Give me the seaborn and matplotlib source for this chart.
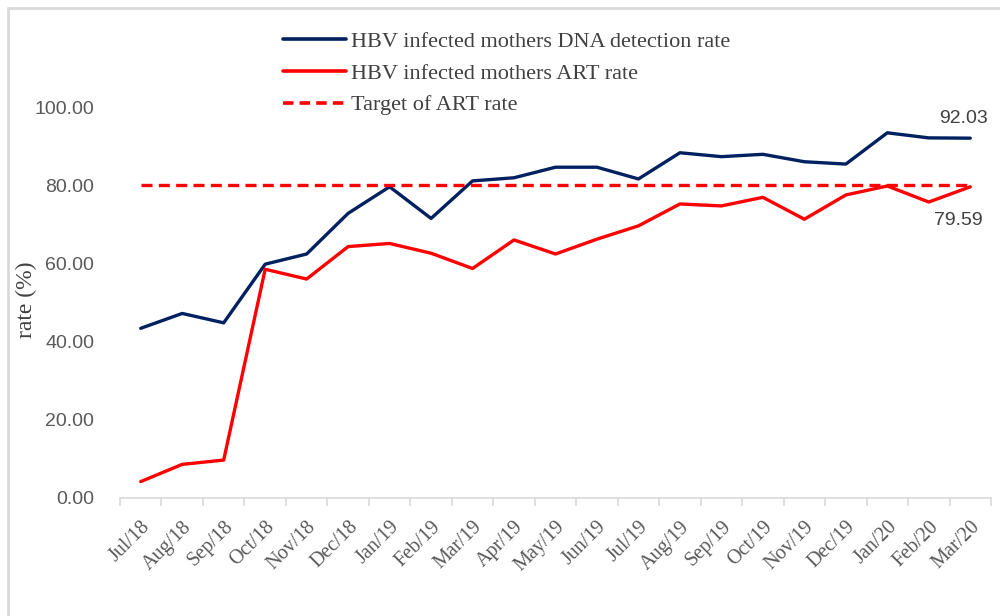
import matplotlib
matplotlib.use("Agg")
import matplotlib.pyplot as plt
import seaborn as sns
import pandas as pd
from matplotlib.lines import Line2D
from matplotlib.transforms import ScaledTranslation

# Data
months = ["Jul/18", "Aug/18", "Sep/18", "Oct/18", "Nov/18", "Dec/18", "Jan/19",
          "Feb/19", "Mar/19", "Apr/19", "May/19", "Jun/19", "Jul/19", "Aug/19",
          "Sep/19", "Oct/19", "Nov/19", "Dec/19", "Jan/20", "Feb/20", "Mar/20"]
dna_rate = [43.4, 47.2, 44.8, 59.8, 62.4, 72.8, 79.6, 71.5, 81.1, 81.9, 84.6,
            84.6, 81.6, 88.3, 87.3, 87.9, 86.0, 85.4, 93.4, 92.1, 92.03]
art_rate = [4.2, 8.6, 9.7, 58.5, 56.0, 64.3, 65.1, 62.6, 58.7, 66.0, 62.4,
            66.2, 69.6, 75.2, 74.7, 76.9, 71.3, 77.5, 79.8, 75.7, 79.59]
target = [80.0] * len(months)
yticks = [0, 20, 40, 60, 80, 100]

labels = ["HBV infected mothers DNA detection rate",
          "HBV infected mothers ART rate",
          "Target of ART rate"]

df = pd.DataFrame({"month": months, "pos": range(len(months)),
                   labels[0]: dna_rate, labels[1]: art_rate, labels[2]: target})
long = df.melt(id_vars=["month", "pos"], var_name="series", value_name="rate")

sns.set_style("white")
serif = ["Liberation Serif", "DejaVu Serif"]
sans = ["Liberation Sans", "DejaVu Sans"]

fig = plt.figure(figsize=(10, 6.16), dpi=100)
ax = fig.add_axes([0.12, 1 - 498 / 616, 0.871, (498 - 107) / 616])

palette = {labels[0]: "#002060", labels[1]: "#FF0000", labels[2]: "#FF0000"}
sns.lineplot(data=long, x="pos", y="rate", hue="series", style="series",
             palette=palette, dashes={labels[0]: "", labels[1]: "", labels[2]: (3.3, 1.9)},
             linewidth=2.4, ax=ax, legend=False)

ax.set_xlim(-0.5, len(months) - 0.5)
ax.set_ylim(0, 100)

# x axis: labels at categories, ticks at boundaries
ax.set_xticks(range(len(months)))
ax.set_xticklabels(months, rotation=45, ha="right", rotation_mode="anchor",
                   family=serif, fontsize=14.5, color="#595959")
shift = ScaledTranslation(-4 / 100, 0, fig.dpi_scale_trans)
for lab in ax.get_xticklabels():
    lab.set_transform(lab.get_transform() + shift)
ax.set_xticks([i - 0.5 for i in range(len(months) + 1)], minor=True)
ax.tick_params(axis="x", which="major", length=0, pad=14)
ax.tick_params(axis="x", which="minor", length=6, color="#d9d9d9", width=1.2,
               direction="out", bottom=True)

ax.set_yticks(yticks)
ax.set_yticklabels([f"{v:.2f}" for v in yticks], family=sans, fontsize=14,
                   color="#595959")
ax.tick_params(axis="y", length=0, pad=18.5)
ax.set_xlabel("")
ax.set_ylabel("rate (%)", family=serif, fontsize=17, color="#404040")
ax.yaxis.set_label_coords(-0.107, 0.506)
ax.yaxis.label.set_va("center")

for s in ["top", "right", "left"]:
    ax.spines[s].set_visible(False)
ax.spines["bottom"].set_color("#d9d9d9")
ax.spines["bottom"].set_linewidth(1.2)

# end labels
ax.annotate(f"{dna_rate[-1]:.2f}", (len(months) - 1, dna_rate[-1]),
            xytext=(-5, 8), textcoords="offset points", ha="center", va="bottom",
            family=sans, fontsize=14, color="#404040")
ax.annotate(f"{art_rate[-1]:.2f}", (len(months) - 1, art_rate[-1]),
            xytext=(-8.5, -18), textcoords="offset points", ha="center", va="top",
            family=sans, fontsize=14, color="#404040")

handles = [Line2D([], [], color="#002060", lw=2.6),
           Line2D([], [], color="#FF0000", lw=2.6),
           Line2D([], [], color="#FF0000", lw=2.6, ls=(0, (2.9, 1.7)))]
leg = fig.legend(handles, labels, loc="upper left", bbox_to_anchor=(0.272, 0.967),
                 frameon=False, borderpad=0, handlelength=2.85, handletextpad=0.2,
                 labelspacing=0.5, prop={"family": serif, "size": 16})
for t in leg.get_texts():
    t.set_color("#404040")

# chart border (left and top visible)
fig.add_artist(Line2D([0.008, 0.008], [0, 1 - 8 / 616], transform=fig.transFigure,
                      color="#d9d9d9", lw=2))
fig.add_artist(Line2D([0.008, 1], [1 - 8 / 616, 1 - 8 / 616], transform=fig.transFigure,
                      color="#d9d9d9", lw=2))

fig.savefig("out.png", dpi=100)
